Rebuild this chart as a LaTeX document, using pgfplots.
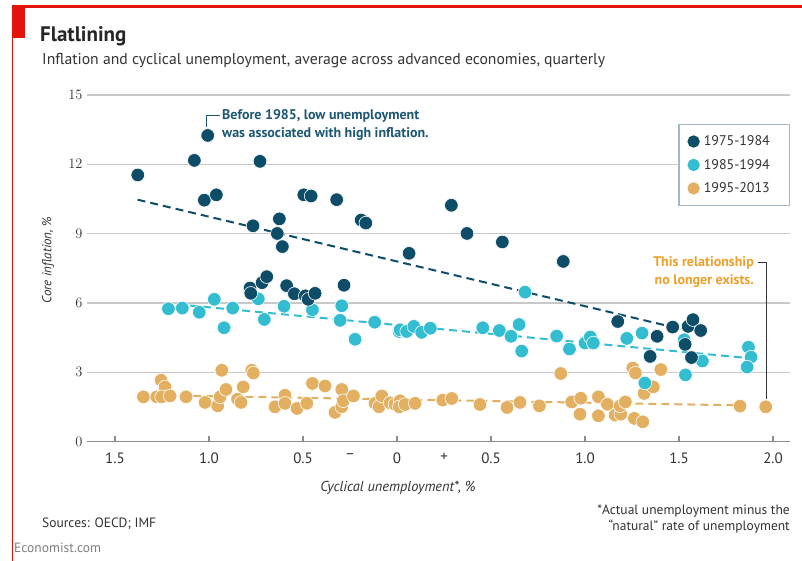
\documentclass[border=0pt]{standalone}
\usepackage{fontspec}
\setmainfont{PT Sans}
\usepackage{pgfplots}
\pgfplotsset{compat=1.18}
\definecolor{ecored}{RGB}{227,18,11}
\definecolor{cdark}{RGB}{14,77,103}
\definecolor{cteal}{RGB}{51,189,209}
\definecolor{corange}{RGB}{227,176,98}
\definecolor{tdark}{RGB}{28,88,118}
\definecolor{torange}{RGB}{240,160,40}
\definecolor{textc}{RGB}{51,51,51}
\definecolor{gridc}{RGB}{200,200,200}
\definecolor{zeroc}{RGB}{140,140,140}
\definecolor{legc}{RGB}{160,185,200}
\newcommand{\fs}[1]{\fontsize{#1}{#1}\selectfont}

\begin{document}
\begin{tikzpicture}[x=1pt,y=1pt]
\path[use as bounding box] (0,0) rectangle (802,561);
\fill[white] (0,0) rectangle (802,561);
% frame decoration
\fill[ecored] (12,553) rectangle (802,556);
\fill[ecored] (12,523) rectangle (25,556);
\draw[ecored, line width=1pt] (12.5,0) -- (12.5,556);
% titles
\node[anchor=base west, inner sep=0pt, font=\fs{21}\bfseries, text=black!85] at (40,519) {Flatlining};
\node[anchor=base west, inner sep=0pt, font=\fs{15.7}, text=textc] at (42,496) {Inflation and cyclical unemployment, average across advanced economies, quarterly};

\begin{axis}[at={(87pt,119.3pt)}, anchor=south west, scale only axis,
  width=703pt, height=346.7pt,
  xmin=-1.649, xmax=2.090, ymin=0, ymax=15,
  axis line style={draw=none},
  xtick={-1.5,-1,-0.5,0,0.5,1,1.5,2},
  xticklabels={1.5,1.0,0.5,0,0.5,1.0,1.5,2.0},
  extra x ticks={-0.25,0.25}, extra x tick labels={–,+},
  extra x tick style={major tick length=0pt},
  xtick pos=lower, tick align=inside, major tick length=6pt,
  x tick style={draw=zeroc, line width=1.3pt},
  ytick={3,6,9,12,15}, y tick style={draw=none},
  extra y ticks={0}, extra y tick style={grid style={draw=zeroc, line width=1.6pt}},
  ymajorgrids, grid style={draw=gridc, line width=1.6pt},
  tick label style={font=\fs{15}, text=textc},
  xticklabel style={yshift=-8pt},
  yticklabel style={xshift=-1pt},
  legend style={at={(axis cs:2.09,13.74)}, anchor=north east, draw=legc, line width=1.3pt,
    fill=white, font=\fs{14}, text=textc, inner xsep=8.5pt, inner ysep=9pt, row sep=8pt,
    /tikz/every odd column/.append style={column sep=2pt}},
  legend cell align=left,
  legend entries={1975-1984\hspace*{9pt},1985-1994\hspace*{9pt},1995-2013\hspace*{9pt}},
  clip=false]
\addlegendimage{legend image code/.code={\fill[cdark] (0pt,0pt) circle (5.5pt);}}
\addlegendimage{legend image code/.code={\fill[cteal] (0pt,0pt) circle (5.5pt);}}
\addlegendimage{legend image code/.code={\fill[corange] (0pt,0pt) circle (5.5pt);}}
% trend lines
\addplot[forget plot, corange, line width=2pt, dash pattern=on 8pt off 5pt] coordinates {(-1.36,2.02) (1.84,1.57)};
\addplot[forget plot, cteal, line width=2pt, dash pattern=on 8pt off 5pt] coordinates {(-1.10,5.89) (1.84,3.64)};
\addplot[forget plot, cdark, line width=2pt, dash pattern=on 8pt off 5pt] coordinates {(-1.38,10.47) (1.466,4.96)};
% 1995-2013
\addplot[forget plot, only marks, mark=*, mark size=6.8pt, mark options={fill=corange, draw=white, line width=0.6pt}] coordinates {
(-1.349,1.94) (-1.278,1.94) (-1.255,2.66) (-1.234,2.37) (-1.252,1.94) (-1.207,1.98)
(-1.122,1.94) (-1.021,1.70) (-0.954,1.55) (-0.941,1.94) (-0.910,2.26) (-0.932,3.09)
(-0.848,1.84) (-0.830,1.70) (-0.818,2.37) (-0.773,3.09) (-0.764,2.97) (-0.649,1.51)
(-0.596,2.01) (-0.596,1.66) (-0.532,1.44) (-0.480,1.66) (-0.450,2.52) (-0.383,2.41)
(-0.330,1.27) (-0.294,2.26) (-0.294,1.51) (-0.286,1.77) (-0.232,1.98) (-0.117,1.66)
(-0.096,1.51) (-0.081,1.98) (-0.037,1.68) (-0.011,1.61) (0.016,1.77) (0.012,1.51)
(0.043,1.61) (0.096,1.66) (0.243,1.80) (0.291,1.87) (0.441,1.61) (0.585,1.48)
(0.654,1.70) (0.757,1.55) (0.871,2.95) (0.929,1.72) (0.977,1.88) (0.973,1.19)
(1.071,1.94) (1.071,1.12) (1.119,1.62) (1.160,1.15) (1.190,1.19) (1.186,1.55)
(1.214,1.72) (1.254,3.19) (1.268,2.97) (1.262,1.01) (1.307,0.86) (1.314,2.09)
(1.363,2.37) (1.403,3.12) (1.824,1.54) (1.961,1.51)};
% 1985-1994
\addplot[forget plot, only marks, mark=*, mark size=6.8pt, mark options={fill=cteal, draw=white, line width=0.6pt}] coordinates {
(-1.216,5.75) (-1.142,5.78) (-1.052,5.60) (-0.972,6.16) (-0.874,5.78) (-0.920,4.93)
(-0.738,6.18) (-0.706,5.29) (-0.601,5.86) (-0.450,5.71) (-0.294,5.88) (-0.303,5.25)
(-0.223,4.43) (-0.119,5.17) (0.011,4.77) (0.016,4.84) (0.051,4.77) (0.089,4.99)
(0.131,4.73) (0.177,4.91) (0.456,4.93) (0.544,4.81) (0.606,4.56) (0.649,5.07)
(0.663,3.92) (0.681,6.47) (0.849,4.57) (0.917,4.01) (1.000,4.27) (1.028,4.53)
(1.044,4.27) (1.222,4.47) (1.303,4.70) (1.527,4.41) (1.624,3.49) (1.534,2.89)
(1.318,2.54) (1.869,4.09) (1.883,3.66) (1.862,3.23)};
% 1975-1984
\addplot[forget plot, only marks, mark=*, mark size=6.8pt, mark options={fill=cdark, draw=white, line width=0.6pt}] coordinates {
(-1.379,11.54) (-1.078,12.17) (-1.007,13.25) (-0.729,12.13) (-1.025,10.45) (-0.961,10.68)
(-0.496,10.68) (-0.457,10.63) (-0.626,9.64) (-0.766,9.34) (-0.637,9.01) (-0.610,8.44)
(-0.321,10.47) (-0.191,9.59) (-0.166,9.46) (0.289,10.23) (0.372,9.01) (0.560,8.64)
(0.064,8.15) (-0.282,6.77) (0.884,7.80) (-0.782,6.65) (-0.778,6.42) (-0.718,6.88)
(-0.693,7.14) (-0.587,6.75) (-0.546,6.40) (-0.488,6.31) (-0.473,6.16) (-0.436,6.42)
(1.174,5.20) (1.466,4.96) (1.548,4.99) (1.574,5.28) (1.615,4.81) (1.383,4.56)
(1.532,4.21) (1.346,3.69) (1.566,3.64)};
\end{axis}

% annotations
\draw[tdark, line width=0.8pt] (220,446) -- (206.7,446) -- (206.7,434);
\node[anchor=base west, inner sep=0pt, font=\fs{14}\bfseries, text=tdark] at (222,441) {Before 1985, low unemployment};
\node[anchor=base west, inner sep=0pt, font=\fs{14}\bfseries, text=tdark] at (222,423) {was associated with high inflation.};
\draw[black!80, line width=0.8pt] (757.7,298.3) -- (766,298.3) -- (766,162);
\node[anchor=base east, inner sep=0pt, font=\fs{14}\bfseries, text=torange] at (754,294) {This relationship};
\node[anchor=base east, inner sep=0pt, font=\fs{14}\bfseries, text=torange] at (754,276) {no longer exists.};
% axis titles and notes
\node[rotate=90, inner sep=0pt, font=\fs{13}\itshape, text=textc] at (48,301) {Core inflation, \%};
\node[anchor=base, inner sep=0pt, font=\fs{14.4}\itshape, text=textc] at (398,69.5) {Cyclical unemployment*, \%};
\node[anchor=base west, inner sep=0pt, font=\fs{13.5}, text=textc] at (42,33.5) {Sources: OECD; IMF};
\node[anchor=base east, inner sep=0pt, font=\fs{13.5}, text=textc] at (790,46) {*Actual unemployment minus the};
\node[anchor=base east, inner sep=0pt, font=\fs{13.5}, text=textc] at (790,30.5) {“natural” rate of unemployment};
\node[anchor=base west, inner sep=0pt, font=\fs{13.5}, text=black!50] at (14,8) {Economist.com};
\end{tikzpicture}
\end{document}
